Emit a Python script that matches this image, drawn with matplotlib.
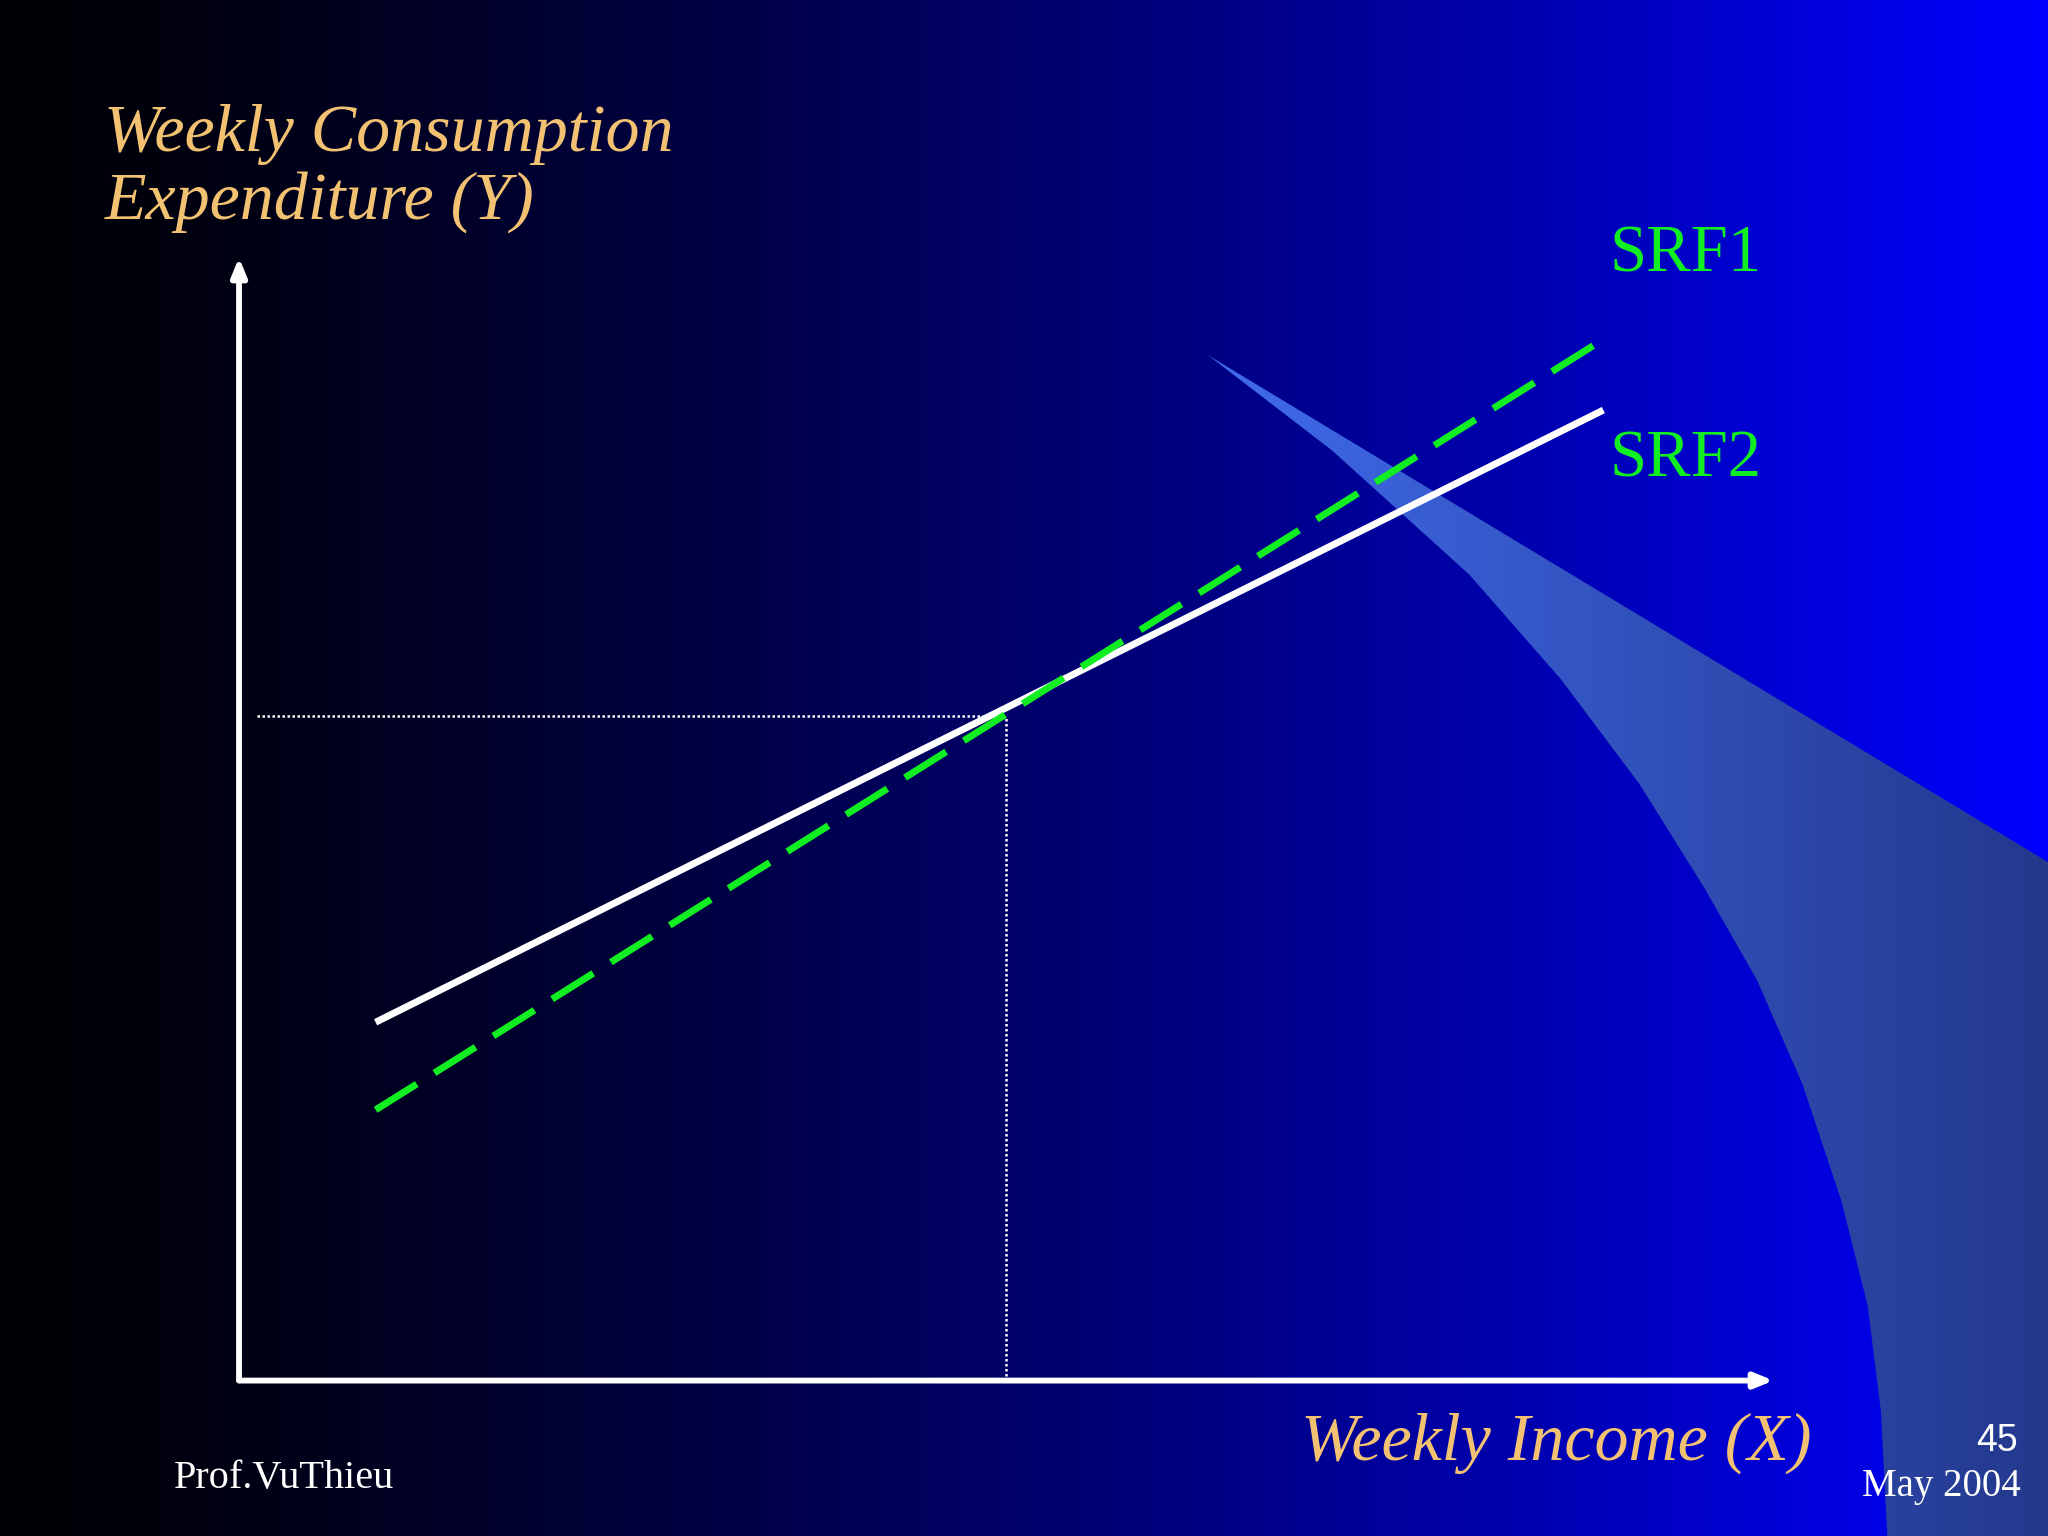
import numpy as np
import matplotlib
matplotlib.use("Agg")
import matplotlib.pyplot as plt
from matplotlib.patches import Polygon

# ---- data (chart units 0..100) ----
srf_x = [8.9, 88.9]
srf1_y = [24.1, 92.7]
srf2_y = [31.9, 86.4]
mean_x = 50.0
mean_y = 59.2
labels_y = "Weekly Consumption\nExpenditure (Y)"
label_x = "Weekly Income (X)"
series_names = ["SRF1", "SRF2"]

W, H = 1568, 1176
fig = plt.figure(figsize=(20.48, 15.36), dpi=100)
bg = fig.add_axes([0, 0, 1, 1])
bg.set_xlim(0, W); bg.set_ylim(H, 0); bg.axis("off")

# background gradient
xs = np.linspace(0, 1, 400)
t = xs ** 1.3
r = np.zeros_like(t); g = np.zeros_like(t)
b = 0.02 + 0.98 * np.clip(t, 0, 1)
grad = np.stack([r, g, b], axis=-1)[None, :, :]
grad = np.repeat(grad, 2, axis=0)
bg.imshow(grad, extent=[0, W, H, 0], aspect="auto", zorder=0)

# decorative ribbon
pts = [(925, 272), (1568, 660), (1568, 1176), (1445, 1176), (1440, 1080), (1430, 1000),
       (1410, 920), (1380, 830), (1345, 750), (1305, 680), (1255, 600), (1195, 520),
       (1125, 440), (1020, 345)]
poly = Polygon(pts, closed=True, facecolor="none", edgecolor="none")
bg.add_patch(poly)
rg = np.linspace(0, 1, 300)
c0 = np.array([0.25, 0.42, 0.93]); c1 = np.array([0.14, 0.22, 0.55])
rib = (c0[None, :] * (1 - rg[:, None]) + c1[None, :] * rg[:, None])[None, :, :]
rib = np.repeat(rib, 2, axis=0)
im = bg.imshow(rib, extent=[925, 1568, H, 272], aspect="auto", zorder=1)
im.set_clip_path(poly)

# axes arrows
ap = dict(arrowstyle="-|>,head_length=1.1,head_width=0.45", color="white", lw=4.2)
bg.annotate("", xy=(183, 195), xytext=(183, 1059), arrowprops=ap, zorder=3)
bg.annotate("", xy=(1360, 1057), xytext=(181, 1057), arrowprops=ap, zorder=3)

# plot axes in chart units
L, R, T, B = 183, 1358, 197, 1057
ax = fig.add_axes([L / W, 1 - B / H, (R - L) / W, (B - T) / H])
ax.set_xlim(0, 100); ax.set_ylim(0, 100); ax.axis("off"); ax.patch.set_alpha(0)

ax.plot([1.2, mean_x], [mean_y, mean_y], color="white", lw=1.8, ls=(0, (1, 1)), zorder=2)
ax.plot([mean_x, mean_x], [0, mean_y], color="white", lw=1.8, ls=(0, (1, 1)), zorder=2)
ax.plot(srf_x, srf2_y, color="white", lw=5, solid_capstyle="butt", zorder=3)
ax.plot(srf_x, srf1_y, color="#11ee22", lw=5, ls=(0, (7, 3)), zorder=4)

# texts
orange = "#f2c272"
bg.text(80, 80, labels_y, fontsize=49, style="italic", family="Liberation Serif",
        color=orange, va="top", ha="left", linespacing=1.12)
bg.text(1387, 1105, label_x, fontsize=49, style="italic", family="Liberation Serif",
        color=orange, va="center", ha="right")
bg.text(1232, 195, series_names[0], fontsize=48, family="Liberation Serif", color="#11ee22", va="center")
bg.text(1232, 352, series_names[1], fontsize=48, family="Liberation Serif", color="#11ee22", va="center")
bg.text(133, 1132, "Prof.VuThieu", fontsize=29, family="Liberation Serif", color="white", va="center")
bg.text(1545, 1103, "45", fontsize=27, family="Liberation Sans", color="white", va="center", ha="right")
bg.text(1547, 1138, "May 2004", fontsize=28, family="Liberation Serif", color="white", va="center", ha="right")

fig.savefig("out.png", dpi=100)
